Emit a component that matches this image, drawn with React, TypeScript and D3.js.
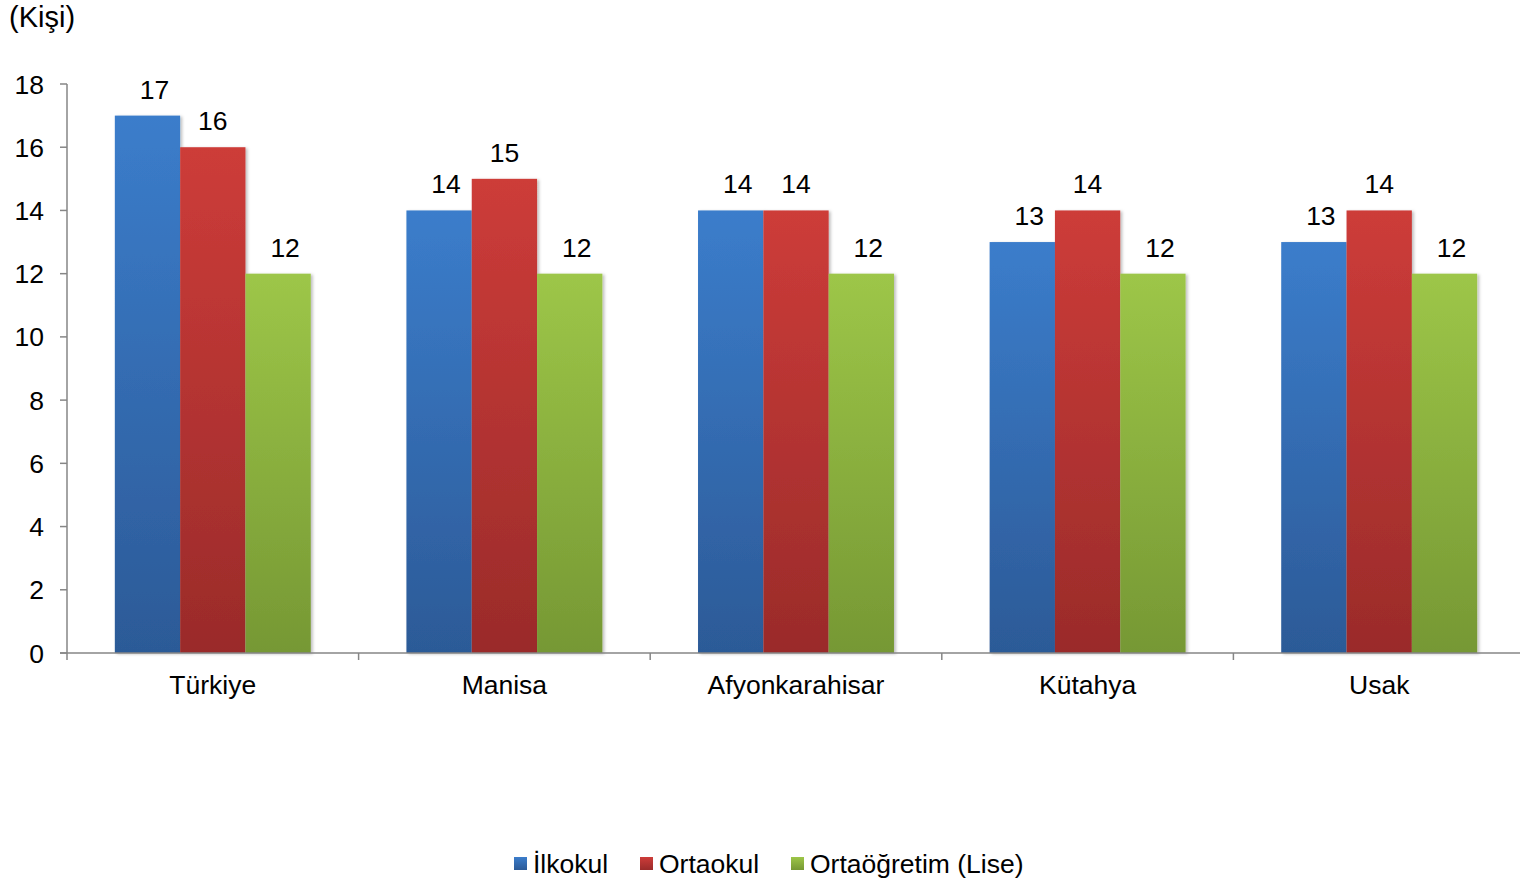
import React from "react";
import * as d3 from "d3";

const categories = ["Türkiye", "Manisa", "Afyonkarahisar", "Kütahya", "Usak"];
const seriesNames = ["İlkokul", "Ortaokul", "Ortaöğretim (Lise)"];
const ilkokul = [17, 14, 14, 13, 13];
const ortaokul = [16, 15, 14, 14, 14];
const lise = [12, 12, 12, 12, 12];
const yTicks = [0, 2, 4, 6, 8, 10, 12, 14, 16, 18];

const seriesValues = [ilkokul, ortaokul, lise];
const gradTop = ["#3b7dcb", "#cd3c39", "#9dc648"];
const gradBottom = ["#2c5a97", "#9a2b2a", "#769834"];
const labelOffset = [7, 0, 7];

export default function App() {
  const W = 1520, H = 882;
  const left = 67, right = 1525, top = 84, bottom = 653;
  const font = "Arial, 'Liberation Sans', sans-serif";
  const fs = 26.5;

  const x = d3.scaleBand<string>().domain(categories).range([left, right]).paddingInner(0).paddingOuter(0);
  const bw = x.bandwidth();
  const groupW = bw * 0.672;
  const x1 = d3.scaleBand<number>().domain([0, 1, 2]).range([0, groupW]);
  const y = d3.scaleLinear().domain([0, 18]).range([bottom, top]);

  const boundaries = categories.map((c) => x(c)!).concat([right]);

  const legendX = [514, 640, 791];

  return (
    <svg width={W} height={H} style={{ position: "absolute", left: 0, top: 0, fontFamily: font }}>
      <defs>
        {gradTop.map((c, i) => (
          <linearGradient key={i} id={`g${i}`} x1="0" y1="0" x2="0" y2="1">
            <stop offset="0" stopColor={c} />
            <stop offset="1" stopColor={gradBottom[i]} />
          </linearGradient>
        ))}
        <filter id="sh" x="-10%" y="-10%" width="130%" height="120%">
          <feDropShadow dx="2" dy="1" stdDeviation="1.5" floodColor="#000" floodOpacity="0.25" />
        </filter>
      </defs>
      <rect width={W} height={H} fill="#fff" />
      <text x={9} y={27} fontSize={29} fill="#000">(Kişi)</text>

      {/* bars */}
      {categories.map((c, ci) => {
        const gx = x(c)! + (bw - groupW) / 2;
        return (
          <g key={c}>
            {seriesValues.map((vals, si) => (
              <rect
                key={si}
                x={gx + x1(si)!}
                y={y(vals[ci])}
                width={x1.bandwidth()}
                height={bottom - y(vals[ci])}
                fill={`url(#g${si})`}
                filter="url(#sh)"
              />
            ))}
            {seriesValues.map((vals, si) => (
              <text
                key={"l" + si}
                x={gx + x1(si)! + x1.bandwidth() / 2 + labelOffset[si]}
                y={y(vals[ci]) - 17}
                fontSize={fs}
                textAnchor="middle"
                fill="#000"
              >
                {vals[ci]}
              </text>
            ))}
            <text x={x(c)! + bw / 2} y={694} fontSize={fs} textAnchor="middle" fill="#000">
              {c}
            </text>
          </g>
        );
      })}

      {/* y axis */}
      <line x1={left} x2={left} y1={top} y2={bottom} stroke="#868686" strokeWidth={1.5} />
      {yTicks.map((t) => (
        <g key={t}>
          <line x1={left - 7} x2={left} y1={y(t)} y2={y(t)} stroke="#868686" strokeWidth={1.5} />
          <text x={44} y={y(t) + 9.5} fontSize={fs} textAnchor="end" fill="#000">
            {t}
          </text>
        </g>
      ))}

      {/* x axis */}
      <line x1={left - 7} x2={right} y1={bottom} y2={bottom} stroke="#868686" strokeWidth={1.5} />
      {boundaries.map((b, i) => (
        <line key={i} x1={b} x2={b} y1={bottom} y2={bottom + 7} stroke="#868686" strokeWidth={1.5} />
      ))}

      {/* legend */}
      {seriesNames.map((n, i) => (
        <g key={n}>
          <rect x={legendX[i]} y={857} width={13} height={13} fill={`url(#g${i})`} />
          <text x={legendX[i] + 19} y={873} fontSize={fs} fill="#000">
            {n}
          </text>
        </g>
      ))}
    </svg>
  );
}
